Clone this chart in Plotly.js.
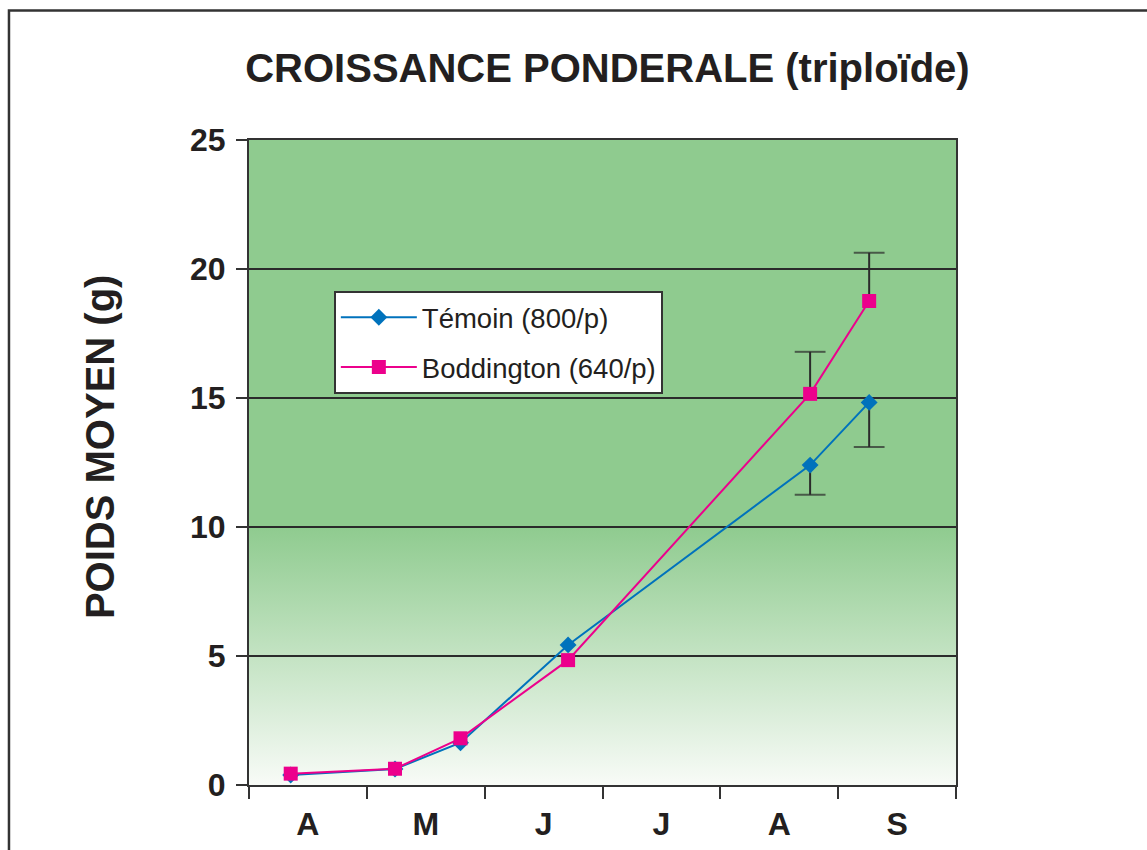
<!DOCTYPE html>
<html>
<head>
<meta charset="utf-8">
<script src="https://cdn.plot.ly/plotly-3.0.1.min.js"></script>
<style>html,body{margin:0;padding:0;background:#fff;}#chart{width:1147px;height:850px;}</style>
</head>
<body>
<div id="chart"></div>
<script>
// ---- data ----
const monthLabels = ['A', 'M', 'J', 'J', 'A', 'S'];
const monthCenters = [0.5, 1.5, 2.5, 3.5, 4.5, 5.5];
const samplePos = [0.354, 1.239, 1.795, 2.708, 4.762, 5.263]; // position in months (April = 0)
const temoin = [0.39, 0.62, 1.64, 5.43, 12.40, 14.83];
const temoinErrMinus = [null, null, null, null, 1.15, 1.73];
const boddington = [0.44, 0.63, 1.81, 4.84, 15.16, 18.76];
const boddingtonErrPlus = [null, null, null, null, 1.63, 1.87];
const yTicks = [0, 5, 10, 15, 20, 25];

const nameTemoin = 'Témoin (800/p)';
const nameBodd = 'Boddington (640/p)';
const yTitle = 'POIDS MOYEN (g)';
const chartTitle = 'CROISSANCE PONDERALE (triploïde)';

const ink = '#231f20';
const blue = '#0072bc';
const pink = '#ec008c';

// one-sided error bars built from the arrays (stem + cap at the far end only)
function errTrace(xs, ys, errs, sign) {
  const ex = [], ey = [], sz = [];
  xs.forEach((x, i) => {
    if (errs[i] == null) return;
    ex.push(x, x, null);
    ey.push(ys[i], ys[i] + sign * errs[i], null);
    sz.push(0, 22, 0);
  });
  return {
    x: ex, y: ey, mode: 'lines+markers', showlegend: false, hoverinfo: 'skip',
    line: {color: '#2b2b2b', width: 2},
    marker: {symbol: 'line-ew', size: sz, color: '#2b2b2b', line: {color: '#2b2b2b', width: 2}}
  };
}

const traces = [
  errTrace(samplePos, temoin, temoinErrMinus, -1),
  errTrace(samplePos, boddington, boddingtonErrPlus, 1),
  {
    x: samplePos, y: temoin, name: nameTemoin, legendgroup: 'a',
    mode: 'lines+markers', line: {color: blue, width: 2},
    marker: {symbol: 'diamond', size: 13, color: blue}
  },
  {
    x: samplePos, y: boddington, name: nameBodd, legendgroup: 'b',
    mode: 'lines+markers', line: {color: pink, width: 2},
    marker: {symbol: 'square', size: 14, color: pink}
  }
];

const gradSvg = '<svg xmlns="http://www.w3.org/2000/svg" width="100" height="100" viewBox="0 0 100 100" preserveAspectRatio="none">' +
  '<defs><linearGradient id="g" x1="0" y1="0" x2="0" y2="1">' +
  '<stop offset="0" stop-color="#8fcb8f"/><stop offset="0.6" stop-color="#8fcb8f"/>' +
  '<stop offset="1" stop-color="#f8fbf7"/></linearGradient></defs>' +
  '<rect x="0" y="0" width="100" height="100" fill="url(#g)"/></svg>';

const fontFam = '"Liberation Sans", Arial, Helvetica, sans-serif';

const layout = {
  width: 1147, height: 850,
  margin: {l: 249, r: 191, t: 140, b: 65},
  paper_bgcolor: '#ffffff',
  plot_bgcolor: 'rgba(0,0,0,0)',
  font: {family: fontFam, color: ink},
  title: {
    text: chartTitle,
    font: {family: fontFam, size: 40, weight: 'bold', color: ink},
    xref: 'container', x: 0.5296, xanchor: 'center',
    yref: 'container', y: 0.92, yanchor: 'middle'
  },
  xaxis: {
    range: [0, 6], fixedrange: true,
    tickmode: 'array', tickvals: monthCenters, ticktext: monthLabels,
    ticks: '', showgrid: false, zeroline: false,
    tickfont: {family: fontFam, size: 32, weight: 'bold', color: ink},
    ticklabelstandoff: 10,
    minor: {tickmode: 'linear', tick0: 0, dtick: 1, ticks: 'outside', ticklen: 12, tickwidth: 2, tickcolor: '#333333', showgrid: false},
    showline: true, linecolor: '#333333', linewidth: 2, mirror: true
  },
  yaxis: {
    range: [0, 25], fixedrange: true,
    tickmode: 'array', tickvals: yTicks,
    ticks: 'outside', ticklen: 11, tickwidth: 2, tickcolor: '#333333',
    ticklabelstandoff: 4,
    tickfont: {family: fontFam, size: 32, weight: 'bold', color: ink},
    showgrid: true, gridcolor: '#2b2b2b', gridwidth: 1.5, zeroline: false,
    showline: true, linecolor: '#333333', linewidth: 2, mirror: true
  },
  annotations: [{
    text: yTitle, textangle: -90, showarrow: false,
    xref: 'paper', yref: 'paper', x: -0.2107, y: 0.524,
    xanchor: 'center', yanchor: 'middle',
    font: {family: fontFam, size: 40, weight: 'bold', color: ink}
  }],
  legend: {
    x: 0.12, y: 0.766, xanchor: 'left', yanchor: 'top',
    bgcolor: '#ffffff', bordercolor: '#333333', borderwidth: 2,
    font: {family: fontFam, size: 27.5, color: ink},
    itemwidth: 76, tracegroupgap: 11, traceorder: 'grouped'
  },
  images: [{
    source: 'data:image/svg+xml;charset=utf-8,' + encodeURIComponent(gradSvg),
    xref: 'paper', yref: 'paper', x: 0, y: 1, sizex: 1, sizey: 1,
    xanchor: 'left', yanchor: 'top', sizing: 'stretch', layer: 'below'
  }],
  shapes: [{
    type: 'path', xref: 'paper', yref: 'paper',
    path: 'M -0.3395,-0.2 L -0.3395,1.2008 L 1.35,1.2008',
    line: {color: '#333333', width: 2.5}
  }],
  showlegend: true
};

Plotly.newPlot('chart', traces, layout, {displayModeBar: false, staticPlot: true});
</script>
</body>
</html>
